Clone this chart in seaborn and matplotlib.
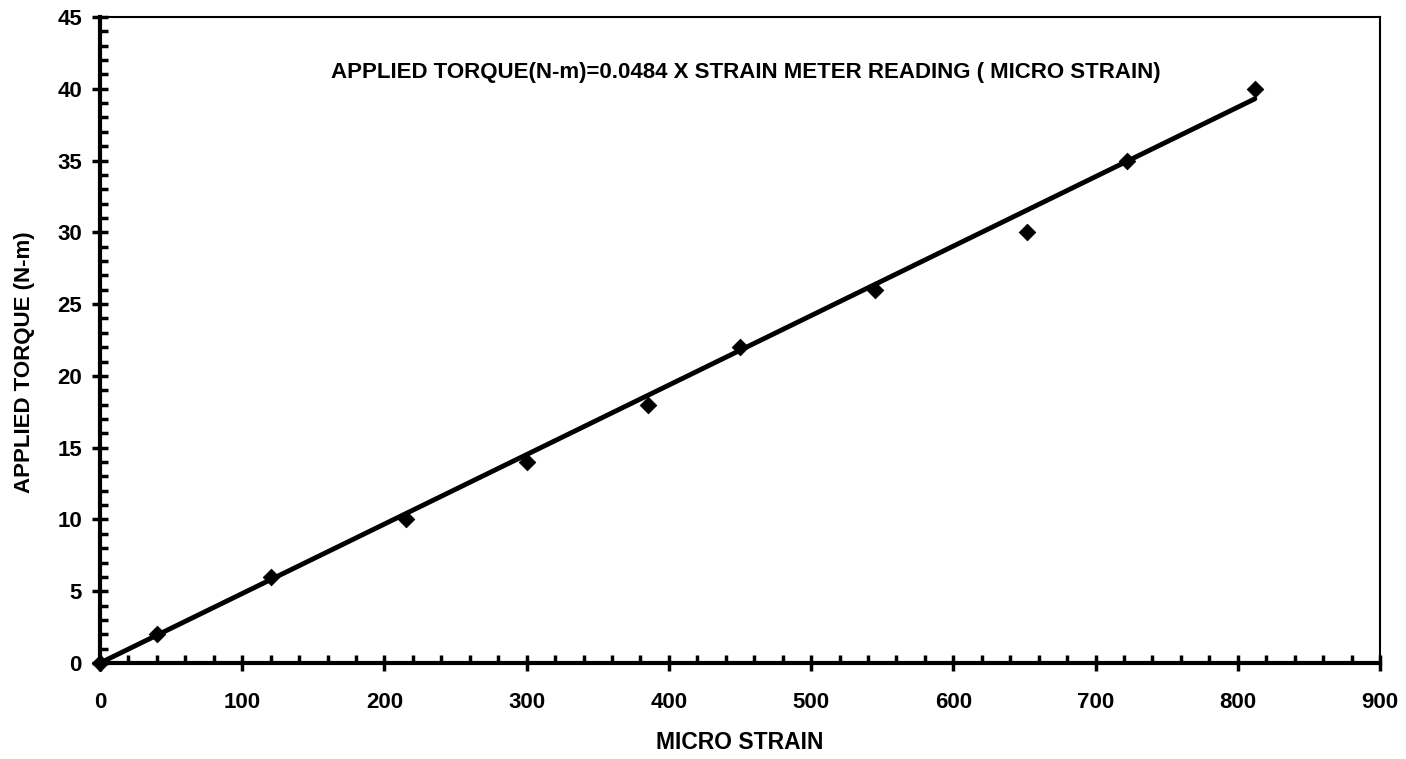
import matplotlib
matplotlib.use("Agg")
import matplotlib.pyplot as plt
from matplotlib.ticker import MultipleLocator
import pandas as pd
import seaborn as sns

# measured points
micro_strain = [0, 40, 120, 215, 300, 385, 450, 545, 652, 722, 812]
torque = [0, 2, 6, 10, 14, 18, 22, 26, 30, 35, 40]

# calibration line (from the equation in the chart)
slope = 0.0484
fit_x = [0, 812]

sns.set_style("ticks")
plt.rcParams['font.family'] = ['Liberation Sans', 'DejaVu Sans']
plt.rcParams['font.weight'] = 'bold'
plt.rcParams['text.color'] = 'black'
plt.rcParams['axes.labelcolor'] = 'black'
plt.rcParams['xtick.color'] = 'black'
plt.rcParams['ytick.color'] = 'black'
plt.rcParams['axes.edgecolor'] = 'black'

fig = plt.figure(figsize=(14.06, 7.59), dpi=100)
ax = fig.add_axes([100 / 1406, 1 - 663 / 759, 1280 / 1406, 646 / 759])

pts = pd.DataFrame({"strain": micro_strain, "torque": torque})
fit = pd.DataFrame({"strain": fit_x, "torque": [slope * v for v in fit_x]})

sns.lineplot(data=fit, x="strain", y="torque", color="black", linewidth=3.5, ax=ax)
sns.scatterplot(data=pts, x="strain", y="torque", color="black", marker="D",
                s=70, edgecolor="black", zorder=5, clip_on=False, ax=ax)

ax.set_xlim(0, 900)
ax.set_ylim(0, 45)
ax.xaxis.set_major_locator(MultipleLocator(100))
ax.xaxis.set_minor_locator(MultipleLocator(20))
ax.yaxis.set_major_locator(MultipleLocator(5))
ax.yaxis.set_minor_locator(MultipleLocator(1))
ax.tick_params(which="major", direction="inout", length=12, width=2.5,
               labelsize=16, colors="black")
ax.tick_params(axis="x", which="major", pad=15)
ax.tick_params(axis="y", which="major", pad=7)
ax.tick_params(which="minor", direction="in", length=6, width=2.5, colors="black")
for lbl in ax.get_xticklabels() + ax.get_yticklabels():
    lbl.set_fontweight("bold")

for side in ["left", "bottom"]:
    ax.spines[side].set_linewidth(3)
for side in ["top", "right"]:
    ax.spines[side].set_linewidth(1.5)

ax.set_xlabel("MICRO STRAIN", fontsize=16.5, fontweight="bold", labelpad=13)
ax.set_ylabel("APPLIED TORQUE (N-m)", fontsize=16, fontweight="bold")
ax.yaxis.set_label_coords(-0.051, 0.466)

ax.text(454, 41.1, "APPLIED TORQUE(N-m)=0.0484 X STRAIN METER READING ( MICRO STRAIN)",
        ha="center", va="center", fontsize=16, fontweight="bold")

fig.savefig("out.png", dpi=100)
